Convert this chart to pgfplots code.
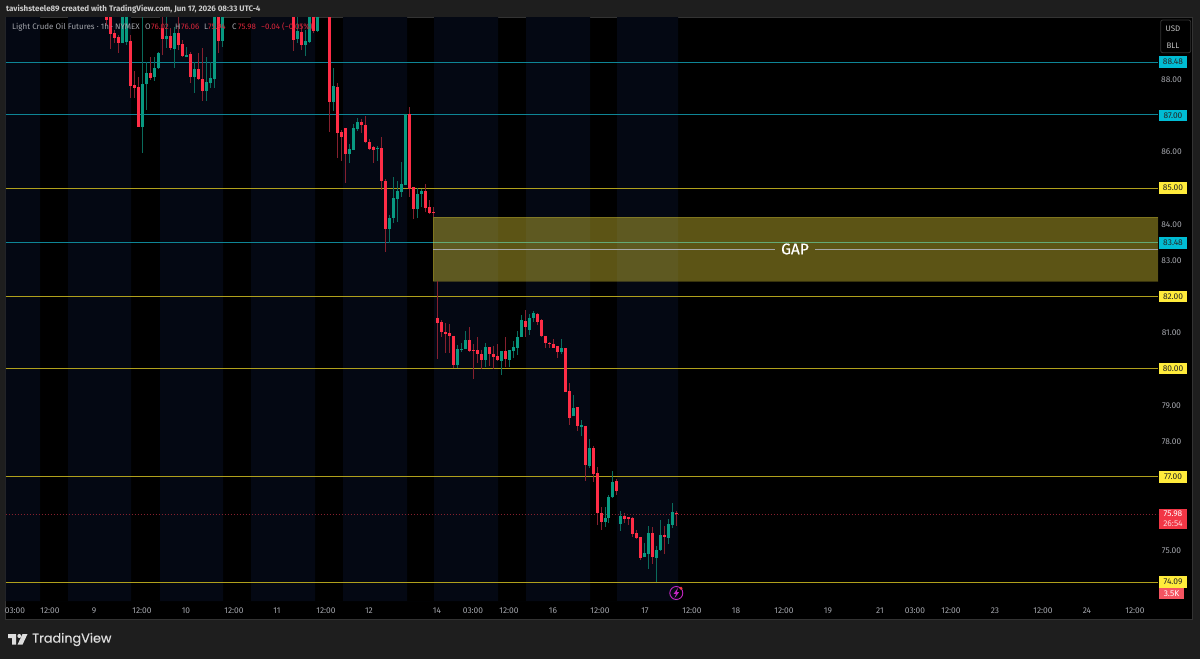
\documentclass[border=0pt]{standalone}
\usepackage{pgfplots}
\usepackage{pgfplotstable}
\usepackage{fontspec}
\setmainfont{Fira Sans}
\newfontfamily\logofont[FakeBold=0.35]{Poppins}
\newfontfamily\gapfont[FakeBold=0.3]{Fira Sans}
\pgfplotsset{compat=1.18}
\definecolor{outer}{HTML}{1E1E1E}
\definecolor{navy}{HTML}{040813}
\definecolor{upc}{HTML}{089981}
\definecolor{dnc}{HTML}{FF2D46}
\definecolor{upw}{HTML}{0A6B5C}
\definecolor{dnw}{HTML}{86202E}
\definecolor{lvy}{HTML}{B0A01C}
\definecolor{lvt}{HTML}{0E8596}
\definecolor{tagy}{HTML}{FFEB3B}
\definecolor{tagc}{HTML}{00BCD4}
\definecolor{tagr}{HTML}{F23645}
\definecolor{tickc}{HTML}{A2A4AA}
\pgfplotstableread{
x o h l c
106 90.2 90.2 89.49 89.63
110 90.2 90.2 88.82 89.24
114 89.26 89.35 88.99 89.12
118 89.15 89.22 88.71 88.99
130 89.05 89.22 87.48 87.80
134 87.83 88.22 87.48 87.76
138 87.77 88.06 86.67 86.68
150 88.16 88.62 87.97 88.04
162 89.40 90.2 88.66 89.10
170 89.19 89.40 88.80 88.85
178 89.26 90.2 88.80 88.94
182 88.96 89.08 88.60 88.64
190 88.68 88.75 87.88 88.05
198 88.28 88.71 87.97 88.00
202 88.00 88.85 87.39 87.68
218 90.2 90.2 88.73 89.06
293 90.2 90.2 88.77 89.08
301 89.31 89.52 88.80 88.94
313 90.2 90.2 89.27 89.33
329 90.2 90.2 86.54 87.36
337 87.79 87.88 85.82 86.52
341 86.54 86.59 85.74 86.41
345 86.64 86.65 85.13 85.94
361 86.81 86.90 86.50 86.73
365 86.73 86.98 86.22 86.25
369 86.25 86.35 86.05 86.07
373 86.11 86.15 85.67 86.04
381 86.08 86.41 84.93 85.18
385 85.18 85.23 83.22 83.86
409 87.03 87.23 84.75 84.95
413 85.01 85.02 84.14 84.41
425 84.90 85.09 84.33 84.44
429 84.46 84.66 84.26 84.30
433 84.33 84.46 84.18 84.29
437 81.40 82.42 80.26 81.26
441 81.28 81.34 80.88 81.00
445 81.01 81.25 80.44 80.95
449 80.97 81.23 80.44 80.90
453 80.90 80.90 80.01 80.09
469 80.79 81.14 80.47 80.48
473 80.51 80.68 79.71 80.48
477 80.50 80.86 80.16 80.40
481 80.40 80.51 79.98 80.24
489 80.59 80.60 80.07 80.41
493 80.41 80.62 79.98 80.32
497 80.34 80.68 80.21 80.23
505 80.48 80.88 80.04 80.26
525 81.31 81.62 80.86 81.15
537 81.52 81.54 81.20 81.29
541 81.33 81.36 80.88 80.90
545 80.90 80.90 80.57 80.70
549 80.71 80.74 80.57 80.69
553 80.68 80.82 80.57 80.57
557 80.61 80.61 80.29 80.46
565 80.56 80.56 79.35 79.35
569 79.38 79.59 78.43 78.64
577 78.93 78.93 78.28 78.42
585 78.42 78.42 76.90 77.34
593 77.80 77.86 76.86 77.08
597 77.11 77.28 75.67 76.02
601 76.02 76.17 75.54 75.77
616.5 76.89 76.95 76.50 76.62
624.5 75.93 76.00 75.74 75.85
628.5 75.90 75.90 75.67 75.85
632.5 75.86 75.89 75.34 75.43
636.5 75.45 75.54 75.29 75.33
640.5 75.35 75.35 74.71 74.77
652.5 75.46 75.63 74.60 74.78
664 75.41 75.65 74.88 75.34
676.5 76.02 76.06 75.65 75.98
}\downbars
\pgfplotstableread{
x o h l c
122 88.99 90.2 88.99 90.2
126 89.03 90.2 88.94 90.2
142 86.68 89.71 85.96 87.86
146 87.85 88.48 87.14 88.16
154 88.05 88.62 87.95 88.30
158 88.30 88.75 88.27 88.71
166 89.10 89.71 88.85 89.19
174 88.83 89.45 88.30 89.28
186 88.60 88.89 88.60 88.66
194 88.05 88.48 87.62 88.28
206 87.67 88.62 87.39 87.93
210 87.88 88.48 87.76 88.03
214 87.99 90.2 87.76 90.2
222 89.06 90.2 88.89 90.2
297 89.10 90.2 88.99 89.33
305 88.94 89.35 88.64 89.05
309 89.03 90.2 89.02 90.2
317 89.34 90.2 89.33 90.2
333 87.36 88.31 87.12 87.81
349 85.94 86.20 85.69 86.07
353 86.05 86.76 86.05 86.65
357 86.61 86.92 86.57 86.81
377 86.06 86.15 85.74 86.09
389 83.86 84.23 83.48 84.16
393 84.16 85.28 84.01 84.71
397 84.68 85.19 84.06 84.90
401 84.88 85.70 84.73 85.09
405 85.06 87.03 85.06 87.03
417 84.41 84.99 84.16 84.83
421 84.83 84.97 84.46 84.90
457 80.09 80.65 80.02 80.54
461 80.52 80.71 80.47 80.55
465 80.54 81.04 80.54 80.79
485 80.24 80.70 80.05 80.59
501 80.21 80.48 79.82 80.48
509 80.24 80.52 80.03 80.52
513 80.49 80.76 80.29 80.60
517 80.57 81.04 80.38 80.88
521 80.87 81.48 80.87 81.33
529 81.07 81.51 80.93 81.40
533 81.39 81.58 81.29 81.53
561 80.46 80.81 80.40 80.56
573 78.68 79.27 78.68 78.91
581 78.39 78.58 78.14 78.44
589 77.31 78.06 77.26 77.80
605 75.77 76.18 75.63 75.87
608.5 75.88 76.50 75.74 76.45
612.5 76.44 77.18 76.42 76.87
620.5 75.71 76.07 75.52 75.93
644.5 74.78 75.19 74.78 74.89
648.5 74.87 75.66 74.47 75.46
656.5 74.76 75.10 74.11 74.98
660 74.98 75.81 74.96 75.40
668 75.32 75.84 75.15 75.71
672.5 75.68 76.28 75.58 76.03
}\upbars
\newcommand{\tag}[4]{% y, fill, text colour, label
  \fill[#2] (1159,#1-5.6) rectangle (1187,#1+5.6);
  \node[text=#3,font=\fontsize{8.4}{9}\selectfont,inner sep=0pt] at (1173,#1) {#4};}
\begin{document}
\begin{tikzpicture}[x=1pt,y=-1pt]
\useasboundingbox (0,0) rectangle (1200,659);
\fill[outer] (0,0) rectangle (1200,659);
\fill[black] (5.5,17) rectangle (1192.5,619);
\draw[line width=0.8pt,color=white!20!black] (5.5,17) rectangle (1192.5,619);
\begin{axis}[
  at={(5.5pt,-601pt)},anchor=south west,
  scale only axis,width=1152.5pt,height=584pt,
  xmin=5.5,xmax=1158,ymin=73.576,ymax=89.713,
  axis line style={draw=none},tick style={draw=none},
  ytick={75,78,79,81,83,84,86,88},
  yticklabels={75.00,78.00,79.00,81.00,83.00,84.00,86.00,88.00},
  yticklabel pos=right,
  yticklabel style={text=tickc,font=\fontsize{8.4}{9}\selectfont,anchor=center,xshift=13.5pt,yshift=-0.8pt},
  xtick={15,50,94,142,186,234,277,326,369,437,473,509,553,600,645,692,736,784,828,880,915,951,995,1043,1087,1135},
  xticklabels={03:00,12:00,9,12:00,10,12:00,11,12:00,12,14,03:00,12:00,16,12:00,17,12:00,18,12:00,19,21,03:00,12:00,23,12:00,24,12:00},
  xticklabel style={text=tickc,font=\fontsize{8.4}{9}\selectfont,anchor=base,yshift=-12pt},
  clip=true,
]
% session bands
\addplot[fill=navy,draw=none,forget plot] coordinates {(5.5,73.576)(5.5,89.713)(40,89.713)(40,73.576)(68,73.576)(68,89.713)(131,89.713)(131,73.576)(160,73.576)(160,89.713)(223,89.713)(223,73.576)(251,73.576)(251,89.713)(315,89.713)(315,73.576)(343,73.576)(343,89.713)(407,89.713)(407,73.576)(434,73.576)(434,89.713)(498,89.713)(498,73.576)(526,73.576)(526,89.713)(590,89.713)(590,73.576)(617,73.576)(617,89.713)(678,89.713)(678,73.576)};
% levels
\addplot[lvt,line width=1pt,forget plot] coordinates {(5.5,88.456)(1158,88.456)};
\addplot[lvt,line width=1pt,forget plot] coordinates {(5.5,87.019)(1158,87.019)};
\addplot[lvt,line width=1pt,forget plot] coordinates {(5.5,83.48)(1158,83.48)};
\addplot[lvy,line width=1pt,forget plot] coordinates {(5.5,84.974)(1158,84.974)};
\addplot[lvy,line width=1pt,forget plot] coordinates {(5.5,82.00)(1158,82.00)};
\addplot[lvy,line width=1pt,forget plot] coordinates {(5.5,80.00)(1158,80.00)};
\addplot[lvy,line width=1pt,forget plot] coordinates {(5.5,77.013)(1158,77.013)};
\addplot[lvy,line width=1pt,forget plot] coordinates {(5.5,74.09)(1158,74.09)};
\addplot[dnw,line width=0.8pt,dash pattern=on 1pt off 2pt,forget plot] coordinates {(5.5,75.98)(1158,75.98)};
% gap zone
\addplot[fill=tagy,fill opacity=0.36,draw=tagy,draw opacity=0.22,line width=0.8pt,forget plot] coordinates {(433,84.18)(1158,84.18)(1158,82.42)(433,82.42)} -- cycle;
\addplot[color=white!65!black,line width=0.9pt,forget plot] coordinates {(433,83.295)(775,83.295)};
\addplot[color=white!65!black,line width=0.9pt,forget plot] coordinates {(815,83.295)(1158,83.295)};
% wicks
\addplot[draw=none,mark=none,forget plot,error bars/.cd,y dir=both,y explicit,error mark=none,error bar style={line width=1pt,color=dnw}]
  table[x=x,y=o,y error plus expr=\thisrow{h}-\thisrow{o},y error minus expr=\thisrow{o}-\thisrow{l}] {\downbars};
\addplot[draw=none,mark=none,forget plot,error bars/.cd,y dir=both,y explicit,error mark=none,error bar style={line width=1pt,color=upw}]
  table[x=x,y=o,y error plus expr=\thisrow{h}-\thisrow{o},y error minus expr=\thisrow{o}-\thisrow{l}] {\upbars};
% bodies
\addplot[draw=none,mark=none,forget plot,error bars/.cd,y dir=minus,y explicit,error mark=none,error bar style={line width=3pt,color=dnc}]
  table[x=x,y=o,y error minus expr=\thisrow{o}-\thisrow{c}] {\downbars};
\addplot[draw=none,mark=none,forget plot,error bars/.cd,y dir=plus,y explicit,error mark=none,error bar style={line width=3pt,color=upc}]
  table[x=x,y=o,y error plus expr=\thisrow{c}-\thisrow{o}] {\upbars};
\end{axis}
% strip that cuts the first time label
\fill[outer] (0,600) rectangle (5.2,619);
% header
\node[anchor=west,inner sep=0pt,text=white!80!black,font=\fontsize{8}{9}\selectfont\bfseries] at (6,9) {tavishsteele89 created with TradingView.com, Jun 17, 2026 08:33 UTC-4};
% legend
\begin{scope}[every node/.style={anchor=west,inner sep=0pt,font=\fontsize{8}{9}\selectfont}]
\node[text=tickc] at (12,27) {Light Crude Oil Futures · 1h · NYMEX};
\node[text=tickc] at (145,27) {O};
\node[text=dnc!85!black] at (151,27) {76.02};
\node[text=tickc] at (175,27) {H};
\node[text=dnc!85!black] at (181,27) {76.06};
\node[text=tickc] at (204,27) {L};
\node[text=dnc!85!black] at (208,27) {75.94};
\node[text=tickc] at (232,27) {C};
\node[text=dnc!85!black] at (238,27) {75.98};
\node[text=dnc!85!black] at (261,27) {−0.04 (−0.05\%)};
\end{scope}
% GAP
\node[text=white,font=\gapfont\fontsize{15.5}{17}\selectfont,inner sep=0pt] at (795,249) {GAP};
% currency button
\draw[rounded corners=2pt,color=white!20!black,fill=black,line width=0.8pt] (1160.7,20) rectangle (1190.7,52.7);
\node[text=white!75!black,font=\fontsize{8}{9}\selectfont,inner sep=0pt] at (1173,28.5) {USD};
\node[text=white!75!black,font=\fontsize{8}{9}\selectfont,inner sep=0pt] at (1173,45.5) {BLL};
% price tags
\tag{62}{tagc}{black!85}{88.48}
\tag{115.5}{tagc}{black!85}{87.00}
\tag{188}{tagy}{black!85}{85.00}
\tag{243}{tagc}{black!85}{83.48}
\tag{296.5}{tagy}{black!85}{82.00}
\tag{368.5}{tagy}{black!85}{80.00}
\tag{477}{tagy}{black!85}{77.00}
\tag{582}{tagy}{black!85}{74.09}
\fill[tagr] (1159,508.7) rectangle (1187,528.7);
\node[text=white,font=\fontsize{8.4}{9}\selectfont,inner sep=0pt] at (1173,514) {75.98};
\node[text=white!80!tagr,font=\fontsize{8.4}{9}\selectfont,inner sep=0pt] at (1173,523.5) {26:54};
\fill[tagr!85!white] (1159,587.7) rectangle (1184,598.7);
\node[text=white,font=\fontsize{8.4}{9}\selectfont,inner sep=0pt] at (1171.5,593.2) {3.5K};
% lightning
\draw[color=violet!55!magenta!85!white,line width=0.9pt] (676.3,593) circle (6.5);
\fill[violet!55!magenta!85!white] (678,587.8) -- (673.7,593.8) -- (676,593.8) -- (674.6,598) -- (679,592.2) -- (676.7,592.2) -- cycle;
\fill[tagr] (681,588.3) circle (1.6);
% logo
\fill[white!87!black] (8,634) -- (16.2,634) -- (16.2,644.5) -- (12,644.5) -- (12,638) -- (8,638) -- cycle;
\fill[white!87!black] (19.3,636) circle (2);
\fill[white!87!black] (22.5,634) -- (27.5,634) -- (22.6,644.5) -- (17.6,644.5) -- cycle;
\node[anchor=west,inner sep=0pt,text=white!87!black,font=\logofont\fontsize{12.8}{15}\selectfont] at (32,639.5) {TradingView};
\end{tikzpicture}
\end{document}
